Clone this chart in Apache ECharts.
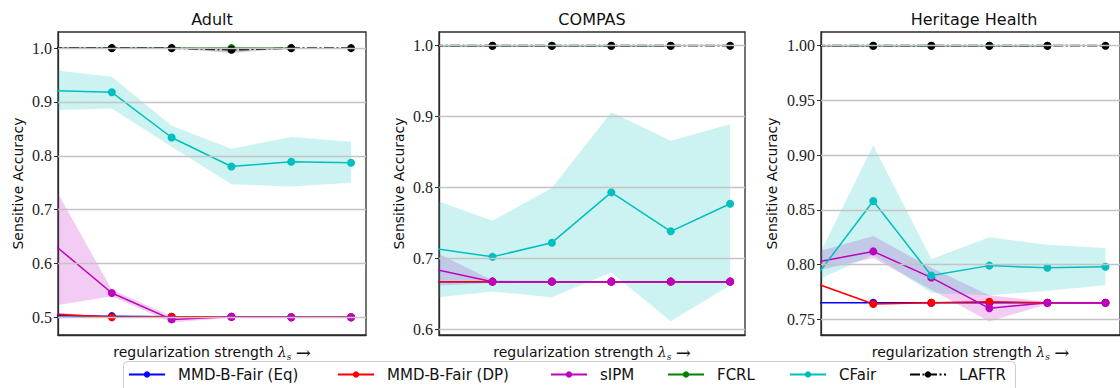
<!DOCTYPE html>
<html>
<head>
<meta charset="utf-8">
<script src="https://cdn.jsdelivr.net/npm/echarts@6/dist/echarts.min.js"></script>
<style>
  html, body { margin: 0; padding: 0; background: #ffffff; }
  #chart { width: 1120px; height: 388px; }
</style>
</head>
<body>
<div id="chart"></div>
<script>
// Regularization steps (x positions of the measurements)
const steps = [0, 1, 2, 3, 4, 5];

const methods = ['MMD-B-Fair (Eq)', 'MMD-B-Fair (DP)', 'sIPM', 'FCRL', 'CFair', 'LAFTR'];
const methodColors = ['#0000ff', '#ff0000', '#bf00bf', '#008000', '#00bfbf', '#000000'];
const bandFills = ['rgba(0,0,255,0.2)', 'rgba(255,0,0,0.2)', 'rgba(191,0,191,0.2)',
                   'rgba(0,128,0,0.2)', 'rgba(0,191,191,0.2)', 'rgba(0,0,0,0.2)'];

// ---- Adult ----
const adultEq      = [0.503, 0.502, 0.501, 0.501, 0.500, 0.500];
const adultDP      = [0.506, 0.500, 0.501, 0.501, 0.500, 0.500];
const adultDPLo    = [0.503, 0.499, 0.500, 0.500, 0.500, 0.500];
const adultDPHi    = [0.509, 0.501, 0.502, 0.502, 0.500, 0.500];
const adultSipm    = [0.638, 0.545, 0.496, 0.501, 0.500, 0.500];
const adultSipmLo  = [0.521, 0.539, 0.490, 0.499, 0.499, 0.499];
const adultSipmHi  = [0.750, 0.551, 0.502, 0.503, 0.501, 0.501];
const adultFcrl    = [1.000, 1.000, 1.000, 1.000, 1.000, null];
const adultCfair   = [0.921, 0.918, 0.834, 0.780, 0.789, 0.787];
const adultCfairLo = [0.885, 0.888, 0.817, 0.747, 0.743, 0.750];
const adultCfairHi = [0.959, 0.947, 0.856, 0.813, 0.835, 0.826];
const adultLaftr   = [1.000, 1.000, 1.000, 0.997, 1.000, 1.000];
const adultLaftrLo = [1.000, 1.000, 1.000, 0.991, 1.000, 1.000];
const adultLaftrHi = [1.000, 1.000, 1.000, 1.003, 1.000, 1.000];
const adultTicks   = [0.5, 0.6, 0.7, 0.8, 0.9, 1.0];

// ---- COMPAS ----
const compasEq      = [0.667, 0.667, 0.667, 0.667, 0.667, 0.667];
const compasDP      = [0.667, 0.667, 0.667, 0.667, 0.667, 0.667];
const compasSipm    = [0.685, 0.667, 0.667, 0.667, 0.667, 0.667];
const compasSipmLo  = [0.661, 0.665, 0.665, 0.665, 0.665, 0.665];
const compasSipmHi  = [0.710, 0.669, 0.668, 0.668, 0.668, 0.668];
const compasFcrl    = [1.000, 1.000, 1.000, 1.000, 1.000, null];
const compasCfair   = [0.714, 0.702, 0.722, 0.793, 0.738, 0.777];
const compasCfairLo = [0.644, 0.653, 0.645, 0.680, 0.611, 0.662];
const compasCfairHi = [0.783, 0.753, 0.799, 0.906, 0.866, 0.889];
const compasLaftr   = [1.000, 1.000, 1.000, 1.000, 1.000, 1.000];
const compasTicks   = [0.6, 0.7, 0.8, 0.9, 1.0];

// ---- Heritage Health ----
const heritageEq      = [0.765, 0.765, 0.765, 0.765, 0.765, 0.765];
const heritageDP      = [0.783, 0.764, 0.765, 0.766, 0.765, 0.765];
const heritageSipm    = [0.802, 0.812, 0.788, 0.760, 0.765, 0.765];
const heritageSipmLo  = [0.794, 0.806, 0.777, 0.748, 0.764, 0.764];
const heritageSipmHi  = [0.811, 0.826, 0.797, 0.772, 0.766, 0.766];
const heritageFcrl    = [1.000, 1.000, 1.000, 1.000, 1.000, null];
const heritageCfair   = [0.788, 0.858, 0.790, 0.799, 0.797, 0.798];
const heritageCfairLo = [0.785, 0.809, 0.774, 0.772, 0.776, 0.781];
const heritageCfairHi = [0.801, 0.909, 0.805, 0.825, 0.818, 0.815];
const heritageLaftr   = [1.000, 1.000, 1.000, 1.000, 1.000, 1.000];
const heritageTicks   = [0.75, 0.80, 0.85, 0.90, 0.95, 1.00];

// Panel layout and data wiring
const panels = [
  {
    title: 'Adult', left: 58, width: 308, yMin: 0.467, yMax: 1.030, ticks: adultTicks, digits: 1, nameGap: 33,
    mean: [adultEq, adultDP, adultSipm, adultFcrl, adultCfair, adultLaftr],
    lo:   [null, adultDPLo, adultSipmLo, null, adultCfairLo, adultLaftrLo],
    hi:   [null, adultDPHi, adultSipmHi, null, adultCfairHi, adultLaftrHi]
  },
  {
    title: 'COMPAS', left: 439, width: 306, yMin: 0.5917, yMax: 1.0193, ticks: compasTicks, digits: 1, nameGap: 33,
    mean: [compasEq, compasDP, compasSipm, compasFcrl, compasCfair, compasLaftr],
    lo:   [null, null, compasSipmLo, null, compasCfairLo, null],
    hi:   [null, null, compasSipmHi, null, compasCfairHi, null]
  },
  {
    title: 'Heritage Health', left: 821, width: 306, yMin: 0.7356, yMax: 1.0125, ticks: heritageTicks, digits: 2, nameGap: 42,
    mean: [heritageEq, heritageDP, heritageSipm, heritageFcrl, heritageCfair, heritageLaftr],
    lo:   [null, null, heritageSipmLo, null, heritageCfairLo, null],
    hi:   [null, null, heritageSipmHi, null, heritageCfairHi, null]
  }
];

const GRID_TOP = 32;
const GRID_HEIGHT = 303;
const SANS = 'DejaVu Sans';
const SERIF = 'Liberation Serif';
const LAFTR_DASH = [10, 2.5, 2, 2.5];

const grids = [], xAxes = [], yAxes = [], series = [], graphics = [];

// Shaded spread between the lower and upper curves, placed through the axis scales
function bandSeries(i, name, lo, hi, fill) {
  return {
    type: 'custom', name: name + ' spread', xAxisIndex: i, yAxisIndex: i,
    data: [[steps[0], lo[0]]], clip: true, silent: true, z: 2,
    renderItem: (params, api) => {
      const upper = steps.map((x, k) => api.coord([x, hi[k]]));
      const lower = steps.map((x, k) => api.coord([x, lo[k]])).reverse();
      return {
        type: 'polygon',
        shape: { points: upper.concat(lower) },
        style: { fill: fill, stroke: 'none' }
      };
    }
  };
}

panels.forEach((p, i) => {
  grids.push({
    left: p.left, width: p.width, top: GRID_TOP, height: GRID_HEIGHT,
    show: true, borderColor: '#2b2b2b', borderWidth: 1.3, backgroundColor: 'transparent',
    containLabel: false
  });

  xAxes.push({
    type: 'value', gridIndex: i, min: 0.1, max: 5.25,
    axisLine: { show: true, lineStyle: { color: '#2b2b2b', width: 1.3 } },
    axisTick: { show: false }, axisLabel: { show: false }, splitLine: { show: false },
    name: 'regularization strength {lam|λ}{sub|s} {arr|→}',
    nameLocation: 'middle', nameGap: 8,
    nameTextStyle: {
      fontFamily: SANS, fontSize: 14, color: '#111111', lineHeight: 18,
      rich: {
        lam: { fontFamily: 'DejaVu Serif', fontStyle: 'italic', fontSize: 14, color: '#111111', lineHeight: 18 },
        sub: { fontFamily: 'DejaVu Serif', fontStyle: 'italic', fontSize: 9, color: '#111111', verticalAlign: 'bottom', lineHeight: 12 },
        arr: { fontFamily: 'DejaVu Serif', fontSize: 18, color: '#111111', lineHeight: 18 }
      }
    }
  });

  yAxes.push({
    type: 'value', gridIndex: i, min: p.yMin, max: p.yMax,
    axisLine: { show: true, lineStyle: { color: '#2b2b2b', width: 1.3 } },
    axisTick: { show: true, customValues: p.ticks, length: 4, lineStyle: { color: '#2b2b2b', width: 1 } },
    axisLabel: {
      customValues: p.ticks, margin: 6,
      formatter: (v) => Number(v).toFixed(p.digits),
      fontFamily: SERIF, fontSize: 16, color: '#222222'
    },
    splitLine: { show: false },
    name: 'Sensitive Accuracy', nameLocation: 'middle', nameGap: p.nameGap,
    nameTextStyle: { fontFamily: SANS, fontSize: 14, color: '#111111' }
  });

  // horizontal grid lines at the tick values
  series.push({
    type: 'line', name: 'grid-' + i, xAxisIndex: i, yAxisIndex: i, data: [],
    silent: true, z: 1,
    markLine: {
      silent: true, symbol: 'none', label: { show: false },
      lineStyle: { color: '#c4c4c4', width: 1.3, type: 'solid' },
      emphasis: { disabled: true },
      data: p.ticks.map(v => ({ yAxis: v }))
    }
  });

  methods.forEach((name, m) => {
    const color = methodColors[m];
    series.push({
      type: 'line', name: name, xAxisIndex: i, yAxisIndex: i,
      data: steps.map((x, k) => [x, p.mean[m][k]]),
      symbol: 'circle', symbolSize: 8, showAllSymbol: true,
      lineStyle: { color: color, width: m === 5 ? 1.7 : 1.5, type: m === 5 ? LAFTR_DASH : 'solid' },
      itemStyle: { color: color },
      emphasis: { disabled: true },
      z: 3
    });
    if (p.lo[m] && p.hi[m]) {
      series.push(bandSeries(i, name, p.lo[m], p.hi[m], bandFills[m]));
    }
  });

  graphics.push({
    type: 'text', x: p.left + p.width / 2, y: 19, silent: true,
    style: { text: p.title, fontFamily: SANS, fontSize: 16, fill: '#111111', textAlign: 'center', textVerticalAlign: 'middle' }
  });
});

// legend frame
graphics.push({
  type: 'rect', z: 1, silent: true,
  shape: { x: 123.5, y: 361.5, width: 892, height: 40, r: 4 },
  style: { fill: '#ffffff', stroke: '#cccccc', lineWidth: 1 }
});

const legendLeft = [128, 337, 550, 667, 789, 909];
const legends = methods.map((name, m) => ({
  data: [name], left: legendLeft[m], top: 367, padding: 0, z: 5,
  itemWidth: 36, itemHeight: 8, itemGap: 0, selectedMode: false,
  textStyle: { fontFamily: SANS, fontSize: 15, color: '#111111', padding: [0, 0, 0, 8] }
}));

const chart = echarts.init(document.getElementById('chart'), null, { renderer: 'svg' });
chart.setOption({
  animation: false,
  backgroundColor: '#ffffff',
  grid: grids,
  xAxis: xAxes,
  yAxis: yAxes,
  legend: legends,
  graphic: graphics,
  series: series
});
</script>
</body>
</html>
